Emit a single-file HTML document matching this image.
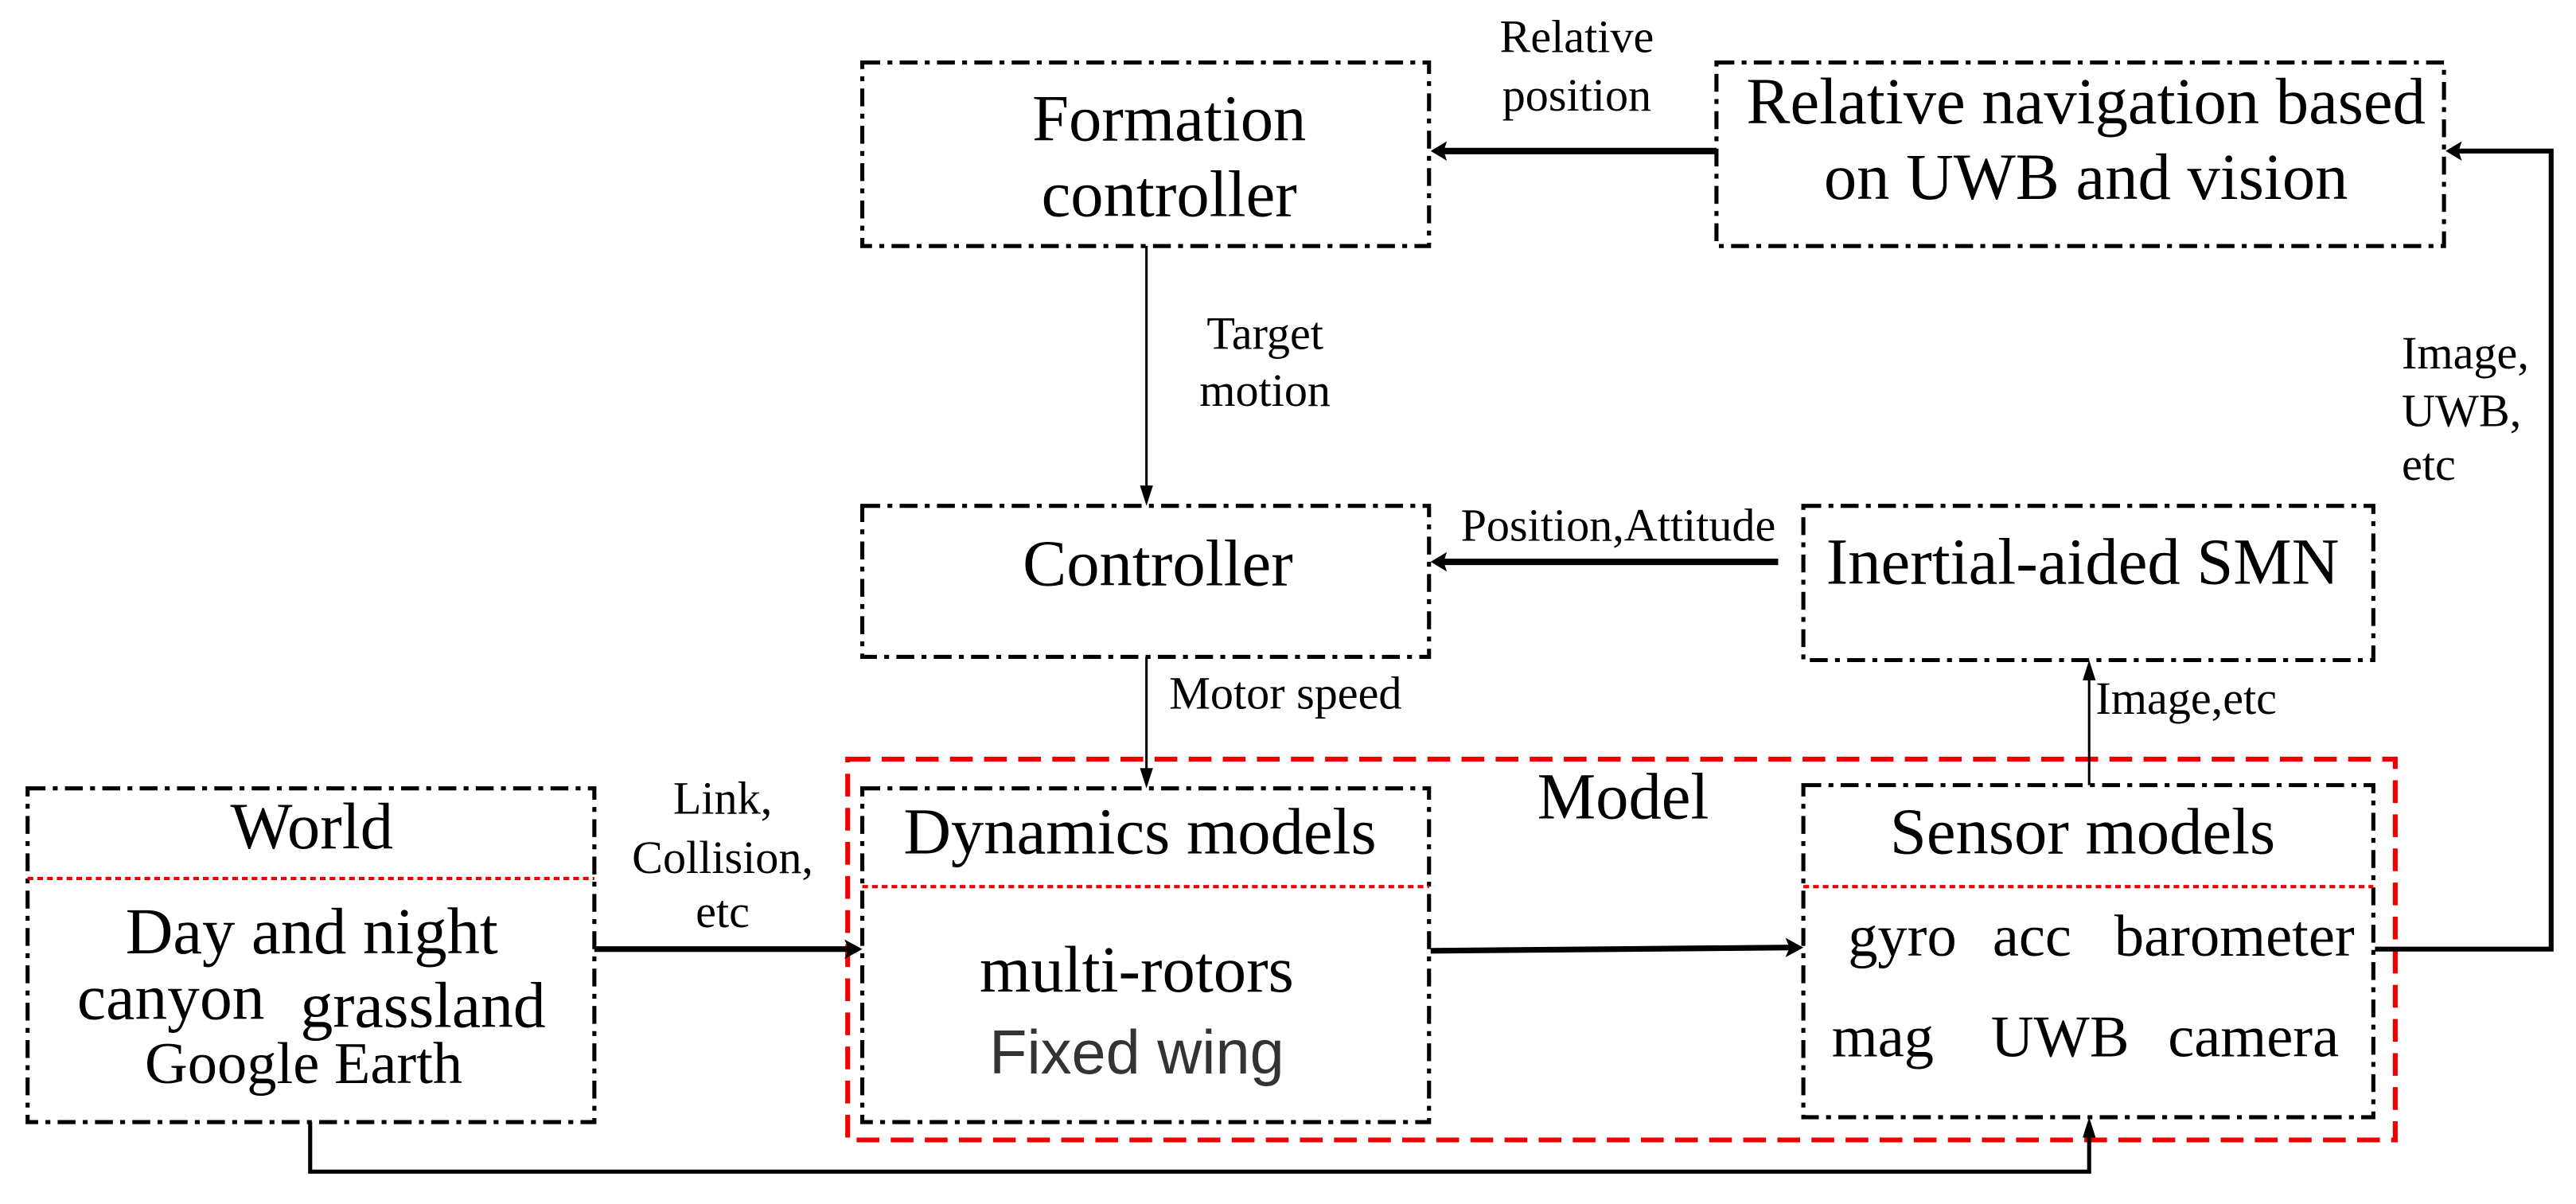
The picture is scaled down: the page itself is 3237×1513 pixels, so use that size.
<!DOCTYPE html>
<html><head><meta charset="utf-8"><style>
html,body{margin:0;padding:0;background:#fff}
svg{display:block}
text{font-family:"Liberation Serif",serif;fill:#000}
</style></head><body>
<svg width="3237" height="1513" viewBox="0 0 3237 1513" xmlns="http://www.w3.org/2000/svg">
<g transform="scale(1.0203)">
<g fill="none" stroke="#000" stroke-width="5" stroke-dasharray="22 9 6 9">
<rect x="1062" y="77" width="698" height="226"/>
<rect x="2114" y="77" width="896" height="226"/>
<rect x="1062" y="623" width="698" height="186"/>
<rect x="2221" y="623" width="702" height="190"/>
<rect x="34" y="971" width="698" height="411"/>
<rect x="1062" y="971" width="698" height="411"/>
<rect x="2221" y="967" width="702" height="409"/>
</g>
<rect x="1044" y="935" width="1906" height="469" fill="none" stroke="#e00" stroke-width="6" stroke-dasharray="28 14"/>
<g stroke="#e00" stroke-width="4" stroke-dasharray="7 5">
<line x1="34" y1="1082" x2="732" y2="1082"/>
<line x1="1062" y1="1092" x2="1760" y2="1092"/>
<line x1="2221" y1="1092" x2="2923" y2="1092"/>
</g>
<g stroke="#000" fill="none">
<polyline points="2114,186 1775,186" stroke-width="8"/>
<polyline points="2925,1169 3142,1169 3142,186 3025,186" stroke-width="6"/>
<line x1="1412" y1="303" x2="1412" y2="605" stroke-width="3"/>
<line x1="2190" y1="692" x2="1775" y2="692" stroke-width="8"/>
<line x1="1412" y1="809" x2="1412" y2="955" stroke-width="3"/>
<line x1="2573" y1="967" x2="2573" y2="830" stroke-width="3"/>
<line x1="732" y1="1169" x2="1045" y2="1169" stroke-width="7"/>
<line x1="1762" y1="1171" x2="2205" y2="1167" stroke-width="7"/>
<polyline points="382,1382 382,1443 2573,1443 2573,1392" stroke-width="5"/>
</g>
<g fill="#000">
<polygon points="1762,186 1782,174 1778,186 1782,198"/>
<polygon points="3012,186 3032,174 3028,186 3032,198"/>
<polygon points="1412,623 1404,598 1420,598"/>
<polygon points="1762,692 1782,680 1778,692 1782,704"/>
<polygon points="1412,971 1404,946 1420,946"/>
<polygon points="2573,813 2565,838 2581,838"/>
<polygon points="1062,1169 1040,1157 1045,1169 1040,1181"/>
<polygon points="2221,1167 2199,1155 2204,1167 2199,1179"/>
<polygon points="2573,1376 2565,1401 2581,1401"/>
</g>
<g font-size="81" text-anchor="middle">
<text x="1440" y="173">Formation</text>
<text x="1440" y="266">controller</text>
<text x="2569" y="152">Relative navigation based</text>
<text x="2569" y="245">on UWB and vision</text>
<text x="1426" y="721">Controller</text>
<text x="2565" y="719">Inertial-aided SMN</text>
<text x="384" y="1045">World</text>
<text x="1999" y="1008">Model</text>
<text x="1404" y="1051">Dynamics models</text>
<text x="2565" y="1051">Sensor models</text>
<text x="384" y="1174">Day and night</text>
<text x="374" y="1334" font-size="73">Google Earth</text>
<text x="1400" y="1221">multi-rotors</text>
</g>
<g font-size="80">
<text x="95" y="1255">canyon</text>
<text x="370" y="1265">grassland</text>
</g>
<g font-size="73">
<text x="2276" y="1177">gyro</text>
<text x="2454" y="1177">acc</text>
<text x="2604" y="1177">barometer</text>
<text x="2256" y="1301">mag</text>
<text x="2452" y="1301">UWB</text>
<text x="2670" y="1301">camera</text>
</g>
<text x="1400" y="1322" font-size="76" text-anchor="middle" style="font-family:'Liberation Sans',sans-serif;fill:#333">Fixed wing</text>
<g font-size="57" text-anchor="middle">
<text x="1942" y="64">Relative</text>
<text x="1942" y="136">position</text>
<text x="1558" y="430">Target</text>
<text x="1558" y="500">motion</text>
<text x="1993" y="666">Position,Attitude</text>
<text x="890" y="1002">Link,</text>
<text x="890" y="1075">Collision,</text>
<text x="890" y="1142">etc</text>
</g>
<g font-size="57">
<text x="2958" y="454">Image,</text>
<text x="2958" y="525">UWB,</text>
<text x="2958" y="591">etc</text>
<text x="1440" y="873">Motor speed</text>
<text x="2581" y="879">Image,etc</text>
</g>
</g>
</svg>
</body></html>
